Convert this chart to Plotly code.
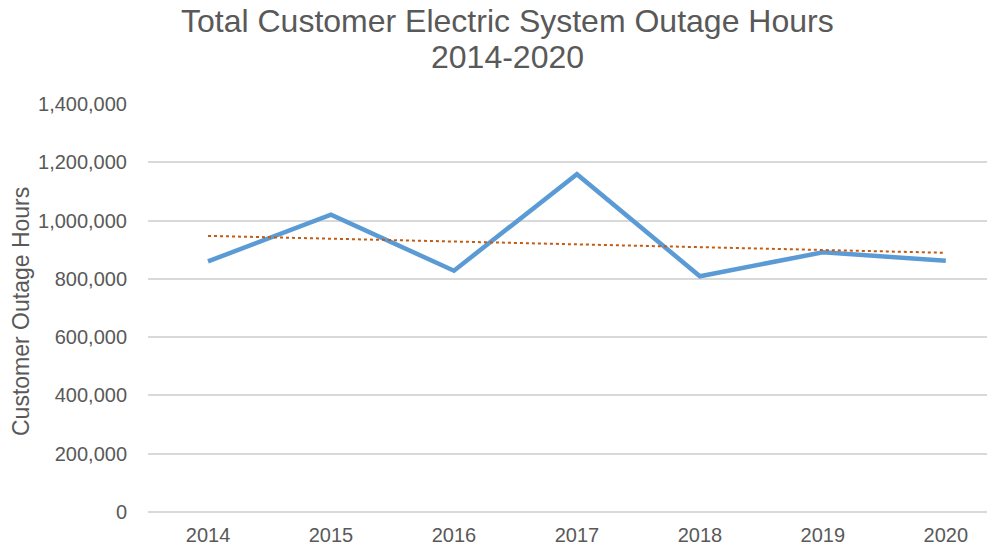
import numpy as np
import plotly.graph_objects as go

years = [2014, 2015, 2016, 2017, 2018, 2019, 2020]
outage_hours = [860000, 1020000, 828000, 1159000, 809000, 891000, 862000]
y_ticks = [0, 200000, 400000, 600000, 800000, 1000000, 1200000, 1400000]
y_tick_labels = ["0", "200,000", "400,000", "600,000", "800,000", "1,000,000", "1,200,000", "1,400,000"]
title_lines = ["Total Customer Electric System Outage Hours", "2014-2020"]
y_title = "Customer Outage Hours"

slope, intercept = np.polyfit(years, outage_hours, 1)
trend = [slope * x + intercept for x in years]

W, H = 987, 540
L, R, T, B = 140, 0, 96, 36
plot_h = H - T - B
plot_w = W - L - R

fig = go.Figure()
fig.add_trace(go.Scatter(x=years, y=outage_hours, mode="lines",
                         line=dict(color="#5B9BD5", width=4.5), showlegend=False))
fig.add_trace(go.Scatter(x=years, y=trend, mode="lines",
                         line=dict(color="#C55A11", width=2, dash="dot"), showlegend=False))

font = "Liberation Sans, Arial, sans-serif"
txt = "#595959"

def py(fig_y):
    return (H - B - fig_y) / plot_h

fig.add_annotation(text=title_lines[0], xref="paper", yref="paper",
                   x=(499 - L) / plot_w, y=py(12.5), xanchor="center", yanchor="middle",
                   showarrow=False, font=dict(size=32, color=txt, family=font))
fig.add_annotation(text=title_lines[1], xref="paper", yref="paper",
                   x=(499 - L) / plot_w, y=py(49), xanchor="center", yanchor="middle",
                   showarrow=False, font=dict(size=32, color=txt, family=font))
fig.add_annotation(text=y_title, xref="paper", yref="paper",
                   x=(13 - L) / plot_w, y=py(303), xanchor="center", yanchor="middle",
                   textangle=-90, showarrow=False, font=dict(size=23, color=txt, family=font))

fig.update_layout(
    width=W, height=H,
    margin=dict(l=L, r=R, t=T, b=B, autoexpand=False),
    paper_bgcolor="white", plot_bgcolor="white",
    font=dict(family=font, color=txt),
    xaxis=dict(range=[2013.512, 2020.40], tickmode="array", tickvals=years,
               ticktext=[str(y) for y in years], showgrid=False, zeroline=False,
               showline=False, ticks="", tickfont=dict(size=20, color=txt),
               ticklabelstandoff=9),
    yaxis=dict(range=[0, 1400000], tickmode="array", tickvals=y_ticks,
               ticktext=y_tick_labels, showgrid=True, gridcolor="#D9D9D9",
               gridwidth=1.5, zeroline=True, zerolinecolor="#D9D9D9", zerolinewidth=1.5,
               showline=False, ticks="", tickfont=dict(size=20, color=txt),
               ticklabelstandoff=20),
)

fig.write_html("out.html")
